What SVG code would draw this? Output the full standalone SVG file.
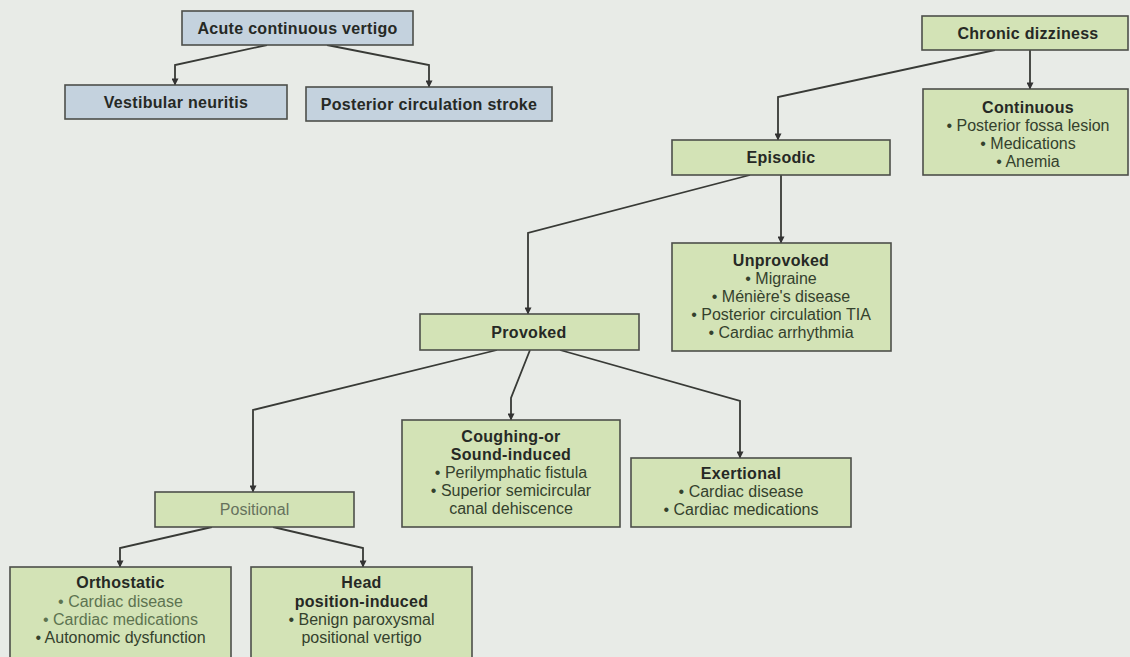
<svg xmlns="http://www.w3.org/2000/svg" width="1130" height="657" viewBox="0 0 1130 657">
  <defs>
    <marker id="arrow" viewBox="0 0 8 8" refX="7.5" refY="4" markerWidth="7" markerHeight="7" markerUnits="userSpaceOnUse" orient="auto">
      <path d="M0,0 L8,4 L0,8 Z" fill="#333"/>
    </marker>
    <style>
      .bg { fill: #e8ebe7; }
      .green { fill: #d3e3b6; stroke: #4d4f4a; stroke-width: 1.6; }
      .blue { fill: #c4d2de; stroke: #4d4f4a; stroke-width: 1.6; }
      text { font-family: "Liberation Sans", Arial, sans-serif; font-size: 16px; text-anchor: middle; }
      .title { font-weight: bold; fill: #262925; letter-spacing: 0.3px; }
      .item { fill: #34412d; }
      .light { fill: #5d7350; }
      .faint { fill: #66725d; }
      .links path { fill: none; stroke: #383a36; stroke-width: 1.8; marker-end: url(#arrow); }
    </style>
  </defs>

  <rect class="bg" x="0" y="0" width="1130" height="657"/>

  <!-- connectors -->
  <g class="links">
    <path d="M267,45 L175,65 L175,85"/>
    <path d="M327,45 L429,65 L429,87"/>
    <path d="M1030,50 L1030,89"/>
    <path d="M995,50 L778,97 L778,140"/>
    <path d="M781,175 L781,243"/>
    <path d="M750,175 L528,233 L528,314"/>
    <path d="M497,350 L253,410 L253,492"/>
    <path d="M530,350 L511,398 L511,420"/>
    <path d="M560,350 L740,401 L740,458"/>
    <path d="M212,527 L120,548 L120,567"/>
    <path d="M273,527 L363,548 L363,567"/>
  </g>

  <!-- acute branch -->
  <g id="acute">
    <rect class="blue" x="182" y="11" width="231" height="34"/>
    <text class="title" x="297.5" y="33.5">Acute continuous vertigo</text>
  </g>
  <g id="vestibular-neuritis">
    <rect class="blue" x="65" y="85" width="222" height="34"/>
    <text class="title" x="176" y="107.5">Vestibular neuritis</text>
  </g>
  <g id="posterior-stroke">
    <rect class="blue" x="306" y="87" width="246" height="34"/>
    <text class="title" x="429" y="109.5">Posterior circulation stroke</text>
  </g>

  <!-- chronic branch -->
  <g id="chronic">
    <rect class="green" x="922" y="16" width="206" height="34"/>
    <text class="title" x="1028" y="38.5">Chronic dizziness</text>
  </g>
  <g id="continuous">
    <rect class="green" x="923" y="89" width="205" height="86"/>
    <text class="title" x="1028" y="113">Continuous</text>
    <text class="item" x="1028" y="131">• Posterior fossa lesion</text>
    <text class="item" x="1028" y="149">• Medications</text>
    <text class="item" x="1028" y="167">• Anemia</text>
  </g>
  <g id="episodic">
    <rect class="green" x="672" y="140" width="218" height="35"/>
    <text class="title" x="781" y="163">Episodic</text>
  </g>
  <g id="unprovoked">
    <rect class="green" x="672" y="243" width="219" height="108"/>
    <text class="title" x="781" y="266">Unprovoked</text>
    <text class="item" x="781" y="284">• Migraine</text>
    <text class="item" x="781" y="302">• Ménière's disease</text>
    <text class="item" x="781" y="320">• Posterior circulation TIA</text>
    <text class="item" x="781" y="338">• Cardiac arrhythmia</text>
  </g>
  <g id="provoked">
    <rect class="green" x="420" y="314" width="219" height="36"/>
    <text class="title" x="529" y="337.5">Provoked</text>
  </g>
  <g id="coughing">
    <rect class="green" x="402" y="420" width="218" height="107"/>
    <text class="title" x="511" y="442">Coughing-or</text>
    <text class="title" x="511" y="460">Sound-induced</text>
    <text class="item" x="511" y="478">• Perilymphatic fistula</text>
    <text class="item" x="511" y="496">• Superior semicircular</text>
    <text class="item" x="511" y="514">canal dehiscence</text>
  </g>
  <g id="exertional">
    <rect class="green" x="631" y="458" width="220" height="69"/>
    <text class="title" x="741" y="479">Exertional</text>
    <text class="item" x="741" y="497">• Cardiac disease</text>
    <text class="item" x="741" y="515">• Cardiac medications</text>
  </g>
  <g id="positional">
    <rect class="green" x="155" y="492" width="199" height="35"/>
    <text class="faint" x="254.5" y="514.5">Positional</text>
  </g>
  <g id="orthostatic">
    <rect class="green" x="10" y="567" width="221" height="95"/>
    <text class="title" x="120.5" y="588">Orthostatic</text>
    <text class="light" x="120.5" y="607">• Cardiac disease</text>
    <text class="light" x="120.5" y="625">• Cardiac medications</text>
    <text class="item" x="120.5" y="643">• Autonomic dysfunction</text>
  </g>
  <g id="head-position">
    <rect class="green" x="251" y="567" width="221" height="95"/>
    <text class="title" x="361.5" y="588">Head</text>
    <text class="title" x="361.5" y="607">position-induced</text>
    <text class="item" x="361.5" y="625">• Benign paroxysmal</text>
    <text class="item" x="361.5" y="643">positional vertigo</text>
  </g>
</svg>
